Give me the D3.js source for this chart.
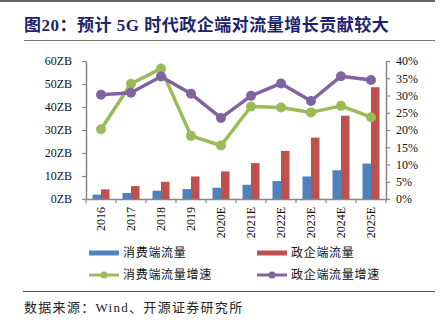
<!DOCTYPE html>
<html>
<head>
<meta charset="utf-8">
<script src="https://cdn.jsdelivr.net/npm/d3@7"></script>
<style>
  body { margin: 0; background: #fff; }
  svg { display: block; }
</style>
</head>
<body>
<div id="chart"></div>
<script>
// years on the x axis
var years = ["2016", "2017", "2018", "2019", "2020E", "2021E", "2022E", "2023E", "2024E", "2025E"];
// traffic, ZB
var consumerTraffic = [1.9, 2.6, 3.6, 4.3, 4.9, 6.2, 7.8, 9.8, 12.5, 15.4];
var enterpriseTraffic = [4.2, 5.6, 7.5, 9.8, 12.0, 15.6, 20.9, 26.7, 36.2, 48.6];
// growth rates, %
var consumerGrowth = [20.2, 33.4, 37.8, 18.3, 15.5, 26.8, 26.5, 25.1, 27.0, 23.7];
var enterpriseGrowth = [30.2, 30.8, 35.5, 30.5, 23.5, 29.9, 33.5, 28.4, 35.6, 34.5];
var leftTicks = [0, 10, 20, 30, 40, 50, 60];
var rightTicks = [0, 5, 10, 15, 20, 25, 30, 35, 40];

var seriesNames = ["消费端流量", "政企端流量", "消费端流量增速", "政企端流量增速"];
var colours = ["#4F81BD", "#C0504D", "#9BBB59", "#8064A2"];

var svgWidth = 446, svgHeight = 328;
var serif = "'Liberation Serif', 'Times New Roman', 'Noto Sans CJK SC', serif";

var svg = d3.select("#chart").append("svg")
    .attr("width", svgWidth).attr("height", svgHeight);

// page rules
svg.append("line").attr("x1", 0).attr("x2", 435).attr("y1", 1).attr("y2", 1)
    .attr("stroke", "#333").attr("stroke-width", 1.5);
svg.append("line").attr("x1", 24).attr("x2", 435).attr("y1", 40.5).attr("y2", 40.5)
    .attr("stroke", "#777").attr("stroke-width", 1);
svg.append("line").attr("x1", 23).attr("x2", 435).attr("y1", 291.5).attr("y2", 291.5)
    .attr("stroke", "#555").attr("stroke-width", 1);

// title
svg.append("text")
    .attr("x", 24).attr("y", 31)
    .attr("font-family", serif)
    .attr("font-size", 17)
    .attr("font-weight", "bold")
    .attr("letter-spacing", 0.5)
    .attr("fill", "#1C2470")
    .text("图20：预计 5G 时代政企端对流量增长贡献较大");

// source note
svg.append("text")
    .attr("x", 24).attr("y", 312)
    .attr("font-family", serif)
    .attr("font-size", 13)
    .attr("letter-spacing", 1.3)
    .attr("fill", "#222")
    .text("数据来源：Wind、开源证券研究所");

// plot area
var plotLeft = 86, plotRight = 386, plotTop = 61, plotBottom = 199;

var x = d3.scaleBand().domain(years).range([plotLeft, plotRight]).padding(0);
var xBars = d3.scaleBand().domain([0, 1]).range([0, 17]);
var yLeft = d3.scaleLinear().domain([0, 60]).range([plotBottom, plotTop]);
var yRight = d3.scaleLinear().domain([0, 40]).range([plotBottom, plotTop]);

// bars
var barSets = [consumerTraffic, enterpriseTraffic];
barSets.forEach(function(vals, s) {
    svg.append("g").selectAll("rect")
        .data(vals)
        .enter().append("rect")
        .attr("x", function(d, i) { return x(years[i]) + (x.bandwidth() - 17) / 2 + xBars(s); })
        .attr("y", function(d) { return yLeft(d); })
        .attr("width", xBars.bandwidth())
        .attr("height", function(d) { return plotBottom - yLeft(d); })
        .attr("fill", colours[s]);
});

// growth lines
var lineSets = [consumerGrowth, enterpriseGrowth];
var line = d3.line()
    .x(function(d, i) { return x(years[i]) + x.bandwidth() / 2; })
    .y(function(d) { return yRight(d); });
lineSets.forEach(function(vals, s) {
    svg.append("path")
        .datum(vals)
        .attr("d", line)
        .attr("fill", "none")
        .attr("stroke", colours[s + 2])
        .attr("stroke-width", 3.5)
        .attr("stroke-linejoin", "round");
    svg.append("g").selectAll("circle")
        .data(vals)
        .enter().append("circle")
        .attr("cx", function(d, i) { return x(years[i]) + x.bandwidth() / 2; })
        .attr("cy", function(d) { return yRight(d); })
        .attr("r", 5)
        .attr("fill", colours[s + 2]);
});

// axes
var axisColour = "#868686";
var gLeft = svg.append("g").attr("transform", "translate(" + plotLeft + ",0)")
    .call(d3.axisLeft(yLeft).tickValues(leftTicks).tickSize(4).tickSizeOuter(0).tickPadding(10)
        .tickFormat(function(d) { return d + "ZB"; }));
var gRight = svg.append("g").attr("transform", "translate(" + plotRight + ",0)")
    .call(d3.axisRight(yRight).tickValues(rightTicks).tickSize(4).tickSizeOuter(0).tickPadding(6)
        .tickFormat(function(d) { return d + "%"; }));
var gBottom = svg.append("g").attr("transform", "translate(0," + plotBottom + ")")
    .call(d3.axisBottom(x).tickSize(0).tickSizeOuter(0).tickPadding(0));

[gLeft, gRight, gBottom].forEach(function(g) {
    g.select(".domain").attr("stroke", axisColour).attr("stroke-width", 1.5);
    g.selectAll(".tick line").attr("stroke", axisColour).attr("stroke-width", 1.2);
    g.selectAll("text").attr("font-family", serif).attr("font-size", 12).attr("fill", "#111");
});

// category separators on the x axis
svg.append("g").selectAll("line")
    .data(years.concat(["end"]))
    .enter().append("line")
    .attr("x1", function(d, i) { return plotLeft + i * x.step(); })
    .attr("x2", function(d, i) { return plotLeft + i * x.step(); })
    .attr("y1", plotBottom).attr("y2", plotBottom + 4)
    .attr("stroke", axisColour).attr("stroke-width", 1.2);

gBottom.selectAll(".tick text")
    .attr("transform", "rotate(-90)")
    .attr("text-anchor", "end")
    .attr("x", -8)
    .attr("y", 0)
    .attr("dy", "0.35em");

// legend
var legendItems = [
    { name: seriesNames[0], colour: colours[0], kind: "bar", lx: 89, ly: 253 },
    { name: seriesNames[1], colour: colours[1], kind: "bar", lx: 257, ly: 253 },
    { name: seriesNames[2], colour: colours[2], kind: "line", lx: 89, ly: 275 },
    { name: seriesNames[3], colour: colours[3], kind: "line", lx: 257, ly: 275 }
];
var legend = svg.append("g").selectAll("g")
    .data(legendItems)
    .enter().append("g")
    .attr("transform", function(d) { return "translate(" + d.lx + "," + d.ly + ")"; });
legend.filter(function(d) { return d.kind === "bar"; })
    .append("rect")
    .attr("x", 0).attr("y", -2.5).attr("width", 30).attr("height", 5)
    .attr("fill", function(d) { return d.colour; });
legend.filter(function(d) { return d.kind === "line"; })
    .append("line")
    .attr("x1", 0).attr("x2", 30).attr("y1", 0).attr("y2", 0)
    .attr("stroke", function(d) { return d.colour; }).attr("stroke-width", 3);
legend.filter(function(d) { return d.kind === "line"; })
    .append("circle")
    .attr("cx", 15).attr("cy", 0).attr("r", 3.5)
    .attr("fill", function(d) { return d.colour; });
legend.append("text")
    .attr("x", 34).attr("y", 0).attr("dy", "0.35em")
    .attr("font-family", serif).attr("font-size", 12).attr("letter-spacing", 0.7)
    .attr("fill", "#111")
    .text(function(d) { return d.name; });
</script>
</body>
</html>
